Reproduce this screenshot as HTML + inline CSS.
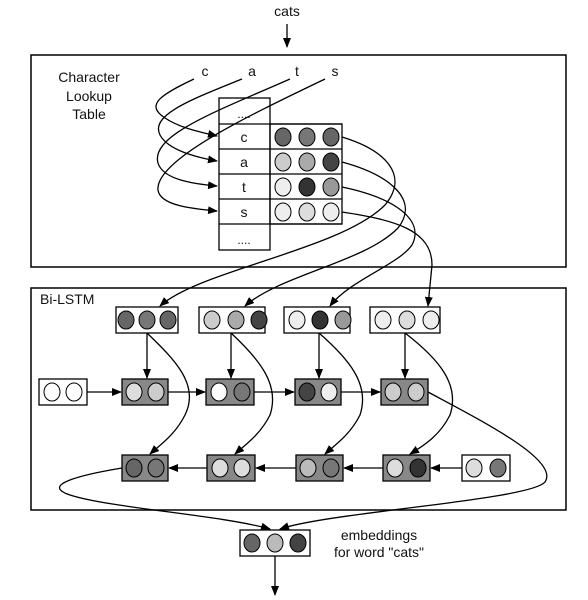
<!DOCTYPE html>
<html><head><style>body{margin:0;background:#fff}svg{display:block}text{font-family:"Liberation Sans",sans-serif;fill:#111}</style></head><body>
<svg width="588" height="600" viewBox="0 0 588 600" xmlns="http://www.w3.org/2000/svg">
<defs><marker id="a" markerWidth="10" markerHeight="8" refX="9" refY="4" orient="auto" markerUnits="userSpaceOnUse"><path d="M0,0 L10,4 L0,8 z" fill="#000"/></marker></defs>
<g stroke="#000" fill="none" stroke-width="1.3">
<text x="287" y="16" font-size="14" text-anchor="middle" stroke="none">cats</text>
<line x1="287" y1="24" x2="287" y2="47" marker-end="url(#a)"/>
<rect x="31" y="55" width="535" height="212" stroke-width="1.5"/>
<rect x="31" y="288" width="535" height="222" stroke-width="1.5"/>
<text x="89" y="82" font-size="14" text-anchor="middle" stroke="none">Character</text>
<text x="89" y="101" font-size="14" text-anchor="middle" stroke="none">Lookup</text>
<text x="89" y="119" font-size="14" text-anchor="middle" stroke="none">Table</text>
<text x="205" y="76" font-size="14" text-anchor="middle" stroke="none">c</text>
<text x="252" y="76" font-size="14" text-anchor="middle" stroke="none">a</text>
<text x="297" y="76" font-size="14" text-anchor="middle" stroke="none">t</text>
<text x="335" y="76" font-size="14" text-anchor="middle" stroke="none">s</text>
<rect x="219" y="98" width="51" height="152"/>
<line x1="219" y1="124" x2="342" y2="124"/><line x1="219" y1="149" x2="342" y2="149"/><line x1="219" y1="174" x2="342" y2="174"/><line x1="219" y1="199" x2="342" y2="199"/><line x1="219" y1="224" x2="342" y2="224"/>
<rect x="270" y="124" width="72" height="100"/>
<text x="244" y="118" font-size="12" text-anchor="middle" stroke="none">....</text>
<text x="244" y="142" font-size="14" text-anchor="middle" stroke="none">c</text>
<text x="244" y="167" font-size="14" text-anchor="middle" stroke="none">a</text>
<text x="244" y="192" font-size="14" text-anchor="middle" stroke="none">t</text>
<text x="244" y="217" font-size="14" text-anchor="middle" stroke="none">s</text>
<text x="244" y="244" font-size="12" text-anchor="middle" stroke="none">....</text>
<path d="M194,79 C160,95 145,105 165,118 C180,128 200,132 217,136" marker-end="url(#a)"/>
<path d="M242,79 C190,100 150,115 160,135 C168,150 195,157 217,161" marker-end="url(#a)"/>
<path d="M290,79 C220,110 150,135 158,163 C163,180 195,184 217,186" marker-end="url(#a)"/>
<path d="M325,79 C250,115 155,160 158,190 C160,206 195,209 217,211" marker-end="url(#a)"/>
<path d="M342,137 C385,150 410,175 385,205 C340,250 200,270 160,306" marker-end="url(#a)"/>
<path d="M342,162 C390,175 420,200 398,228 C365,262 280,275 245,306" marker-end="url(#a)"/>
<path d="M342,187 C395,198 425,220 412,245 C398,265 350,280 330,306" marker-end="url(#a)"/>
<path d="M342,212 C395,220 432,230 432,265 L428,306" marker-end="url(#a)"/>
<rect x="116" y="307" width="62" height="26"/><rect x="199" y="307" width="66" height="26"/><rect x="284" y="307" width="66" height="26"/><rect x="370" y="307" width="70" height="26"/>
<rect x="39" y="379" width="48" height="26"/>
<rect x="122" y="379" width="46" height="26" fill="#888"/><rect x="206" y="379" width="48" height="26" fill="#888"/><rect x="295" y="379" width="46" height="26" fill="#888"/><rect x="381" y="379" width="47" height="26" fill="#888"/>
<rect x="122" y="455" width="46" height="26" fill="#888"/><rect x="207" y="455" width="48" height="26" fill="#888"/><rect x="296" y="455" width="47" height="26" fill="#888"/><rect x="383" y="455" width="47" height="26" fill="#888"/><rect x="462" y="455" width="48" height="26"/>
<text x="40" y="304" font-size="14" stroke="none">Bi-LSTM</text>
<line x1="147" y1="333" x2="147" y2="378" marker-end="url(#a)"/>
<line x1="231" y1="333" x2="231" y2="378" marker-end="url(#a)"/>
<line x1="319" y1="333" x2="319" y2="378" marker-end="url(#a)"/>
<line x1="405" y1="333" x2="405" y2="378" marker-end="url(#a)"/>
<line x1="87" y1="392" x2="121" y2="392" marker-end="url(#a)"/>
<line x1="168" y1="392" x2="205" y2="392" marker-end="url(#a)"/>
<line x1="254" y1="392" x2="294" y2="392" marker-end="url(#a)"/>
<line x1="341" y1="392" x2="380" y2="392" marker-end="url(#a)"/>
<line x1="462" y1="468" x2="431" y2="468" marker-end="url(#a)"/>
<line x1="383" y1="468" x2="344" y2="468" marker-end="url(#a)"/>
<line x1="296" y1="468" x2="256" y2="468" marker-end="url(#a)"/>
<line x1="207" y1="468" x2="169" y2="468" marker-end="url(#a)"/>
<path d="M147,333 C175,360 200,385 185,415 C175,435 160,445 150,454" marker-end="url(#a)"/>
<path d="M231,333 C260,360 280,385 270,415 C260,435 245,445 235,454" marker-end="url(#a)"/>
<path d="M319,333 C350,360 370,385 360,415 C350,435 335,445 325,454" marker-end="url(#a)"/>
<path d="M405,333 C440,360 460,385 450,415 C440,435 425,445 410,454" marker-end="url(#a)"/>
<path d="M428,392 C480,420 560,460 545,482 C530,500 330,512 280,529" marker-end="url(#a)"/>
<path d="M122,468 C80,475 40,485 70,495 C110,508 220,515 270,529" marker-end="url(#a)"/>
<rect x="240" y="530" width="70" height="26"/>
<line x1="275" y1="556" x2="275" y2="595" marker-end="url(#a)"/>
<text x="379" y="540" font-size="14" text-anchor="middle" stroke="none">embeddings</text>
<text x="379" y="557" font-size="14" text-anchor="middle" stroke="none">for word "cats"</text>
</g>
<g stroke="#000" stroke-width="1">
<ellipse cx="283" cy="137" rx="8" ry="9" fill="#666"/><ellipse cx="307" cy="137" rx="8" ry="9" fill="#777"/><ellipse cx="331" cy="137" rx="8" ry="9" fill="#666"/>
<ellipse cx="283" cy="162" rx="8" ry="9" fill="#ccc"/><ellipse cx="307" cy="162" rx="8" ry="9" fill="#aaa"/><ellipse cx="331" cy="162" rx="8" ry="9" fill="#444"/>
<ellipse cx="283" cy="187" rx="8" ry="9" fill="#eee"/><ellipse cx="307" cy="187" rx="8" ry="9" fill="#333"/><ellipse cx="331" cy="187" rx="8" ry="9" fill="#999"/>
<ellipse cx="283" cy="212" rx="8" ry="9" fill="#eee"/><ellipse cx="307" cy="212" rx="8" ry="9" fill="#ddd"/><ellipse cx="331" cy="212" rx="8" ry="9" fill="#eee"/>
<ellipse cx="126" cy="320" rx="8" ry="9" fill="#666"/><ellipse cx="147" cy="320" rx="8" ry="9" fill="#777"/><ellipse cx="168" cy="320" rx="8" ry="9" fill="#666"/>
<ellipse cx="212" cy="320" rx="8" ry="9" fill="#ccc"/><ellipse cx="236" cy="320" rx="8" ry="9" fill="#aaa"/><ellipse cx="259" cy="320" rx="8" ry="9" fill="#444"/>
<ellipse cx="297" cy="320" rx="8" ry="9" fill="#eee"/><ellipse cx="320" cy="320" rx="8" ry="9" fill="#333"/><ellipse cx="343" cy="320" rx="8" ry="9" fill="#999"/>
<ellipse cx="383" cy="320" rx="8" ry="9" fill="#eee"/><ellipse cx="407" cy="320" rx="8" ry="9" fill="#ddd"/><ellipse cx="431" cy="320" rx="8" ry="9" fill="#eee"/>
<ellipse cx="52" cy="392" rx="8" ry="9" fill="#fff"/><ellipse cx="74" cy="392" rx="8" ry="9" fill="#fff"/>
<ellipse cx="134" cy="392" rx="8" ry="9" fill="#ddd"/><ellipse cx="156" cy="392" rx="8" ry="9" fill="#ccc"/>
<ellipse cx="219" cy="392" rx="8" ry="9" fill="#fff"/><ellipse cx="242" cy="392" rx="8" ry="9" fill="#777"/>
<ellipse cx="307" cy="392" rx="8" ry="9" fill="#444"/><ellipse cx="329" cy="392" rx="8" ry="9" fill="#eee"/>
<ellipse cx="393" cy="392" rx="8" ry="9" fill="#ccc"/><ellipse cx="416" cy="392" rx="8" ry="9" fill="#ccc"/>
<ellipse cx="134" cy="468" rx="8" ry="9" fill="#666"/><ellipse cx="156" cy="468" rx="8" ry="9" fill="#777"/>
<ellipse cx="220" cy="468" rx="8" ry="9" fill="#ddd"/><ellipse cx="242" cy="468" rx="8" ry="9" fill="#ddd"/>
<ellipse cx="308" cy="468" rx="8" ry="9" fill="#bbb"/><ellipse cx="331" cy="468" rx="8" ry="9" fill="#777"/>
<ellipse cx="395" cy="468" rx="8" ry="9" fill="#ddd"/><ellipse cx="418" cy="468" rx="8" ry="9" fill="#333"/>
<ellipse cx="474" cy="468" rx="8" ry="9" fill="#ddd"/><ellipse cx="498" cy="468" rx="8" ry="9" fill="#777"/>
<ellipse cx="252" cy="543" rx="8" ry="9" fill="#666"/><ellipse cx="275" cy="543" rx="8" ry="9" fill="#bbb"/><ellipse cx="298" cy="543" rx="8" ry="9" fill="#444"/>
</g>
</svg>
</body></html>
